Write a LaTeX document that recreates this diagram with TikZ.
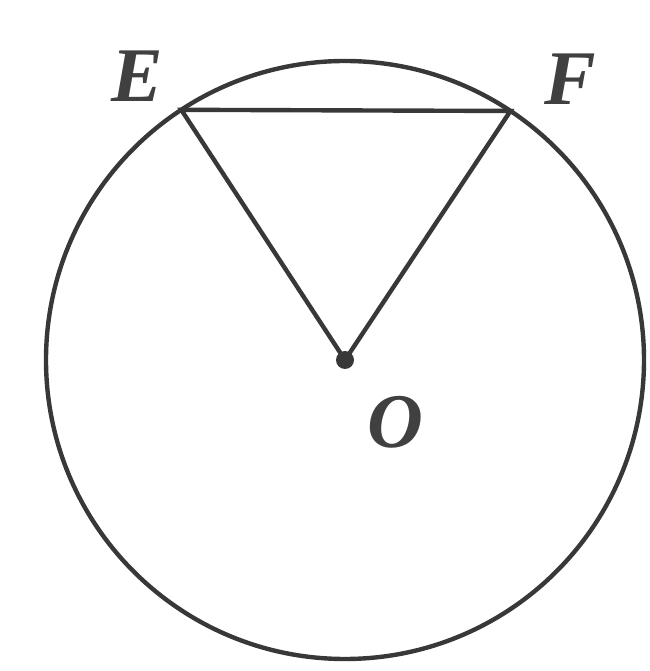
\documentclass[tikz,border=0pt]{standalone}
\usepackage{fontspec}
\setmainfont{Liberation Serif}
\usetikzlibrary{positioning,calc}
\begin{document}
\begin{tikzpicture}[line width=2.5pt,draw=black!78,
 letter/.style={font=\fontsize{44}{44}\selectfont\bfseries\itshape,text=black!75}]
 \useasboundingbox (0,0) rectangle (13,13.42);
 \coordinate (O) at (6.9,6.22);
 \draw (O) circle (5.98);
 \coordinate (E) at ($(O)+(123.2:5.98)$);
 \coordinate (F) at ($(O)+(56.4:5.98)$);
 \draw (E) -- (F) -- (O) -- cycle;
 \fill[black!78] (O) circle (0.18);
 \node[letter] (labelE) at (2.75,11.9) {E};
 \node[letter] (labelF) at (11.4,11.84) {F};
 \node[letter] (labelO) at (7.9,4.98) {O};
\end{tikzpicture}
\end{document}
